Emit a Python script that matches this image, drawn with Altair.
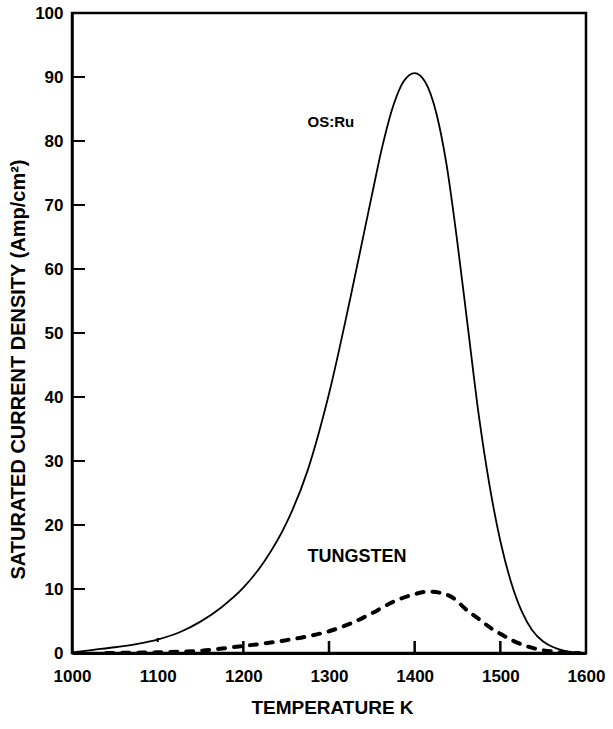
import altair as alt
import pandas as pd

# ---- data ----
os_temp = [1000, 1025, 1050, 1075, 1100, 1125, 1150, 1175, 1200, 1225, 1250, 1275,
           1300, 1325, 1350, 1362, 1375, 1387, 1400, 1412, 1425, 1437, 1450, 1462,
           1475, 1487, 1500, 1512, 1525, 1537, 1550, 1562, 1575, 1587, 1600]
os_val = [0.1, 0.5, 0.9, 1.4, 2.1, 3.2, 4.9, 7.2, 10.2, 14.4, 20.2, 28.5,
          40.5, 55.5, 71.5, 79.0, 85.5, 89.3, 90.6, 89.3, 84.5, 76.5, 64.0, 51.0,
          37.0, 26.5, 17.5, 11.3, 6.5, 3.6, 1.8, 0.9, 0.35, 0.1, 0.0]

w_temp = [1040, 1075, 1100, 1125, 1150, 1175, 1200, 1225, 1250, 1275, 1300, 1325,
          1350, 1375, 1400, 1415, 1430, 1445, 1460, 1475, 1490, 1500, 1515, 1530,
          1545, 1560, 1575, 1592]
w_val = [0.0, 0.05, 0.1, 0.2, 0.35, 0.7, 1.1, 1.5, 2.0, 2.6, 3.4, 4.6,
         6.2, 8.0, 9.2, 9.6, 9.4, 8.6, 6.8, 5.3, 3.8, 3.0, 1.9, 1.1,
         0.55, 0.25, 0.08, 0.0]

x_labels = [1000, 1100, 1200, 1300, 1400, 1500, 1600]
y_labels = [0, 10, 20, 30, 40, 50, 60, 70, 80, 90, 100]
y_inner_ticks = [10, 20, 30, 40, 50, 60, 70, 80, 90]
x_inner_ticks = [1200, 1300, 1400, 1500]
x_small_tick = [1100]

ann_text = ["OS:Ru", "TUNGSTEN"]
ann_temp = [1275, 1275]
ann_val = [83, 15]

FONT = "Liberation Sans"
W, H = 514, 640

xs = alt.Scale(domain=[1000, 1600], nice=False, zero=False)
ys = alt.Scale(domain=[0, 100], nice=False, zero=True)

os_df = pd.DataFrame({"T": os_temp, "J": os_val})
w_df = pd.DataFrame({"T": w_temp, "J": w_val})
yt_df = pd.DataFrame({"J": y_inner_ticks})
xt_df = pd.DataFrame({"T": x_inner_ticks})
xs_df = pd.DataFrame({"T": x_small_tick})
ann1 = pd.DataFrame({"T": [ann_temp[0]], "J": [ann_val[0]], "label": [ann_text[0]]})
ann2 = pd.DataFrame({"T": [ann_temp[1]], "J": [ann_val[1]], "label": [ann_text[1]]})

x_axis = alt.Axis(
    values=x_labels, format="d", title="TEMPERATURE K", ticks=False, grid=False,
    labelFlush=False, labelFont=FONT, labelFontSize=17, labelFontWeight="bold",
    labelColor="black", labelPadding=15, labelOverlap=False,
    titleFont=FONT, titleFontSize=19, titleFontWeight="bold", titleColor="black",
    titleY=54, titleBaseline="middle", titleX=260,
    domainColor="black", domainWidth=3,
)
y_axis = alt.Axis(
    values=y_labels, format="d", title="SATURATED CURRENT DENSITY (Amp/cm²)",
    ticks=False, grid=False, labelFlush=False, labelFont=FONT, labelFontSize=17,
    labelFontWeight="bold", labelColor="black", labelPadding=9, labelOverlap=False,
    titleFont=FONT, titleFontSize=20, titleFontWeight="bold", titleColor="black",
    titleAngle=270, titleX=-54, titleY=356, titleBaseline="middle",
    domainColor="black", domainWidth=2.5,
)

X = alt.X("T:Q", scale=xs, axis=x_axis)
Y = alt.Y("J:Q", scale=ys, axis=y_axis)

os_line = alt.Chart(os_df).mark_line(
    color="black", strokeWidth=1.8, interpolate="monotone"
).encode(x=X, y=Y)

w_line = alt.Chart(w_df).mark_line(
    color="black", strokeWidth=4, strokeDash=[7, 9], strokeCap="round",
    interpolate="monotone"
).encode(x=X, y=Y)

y_ticks = alt.Chart(yt_df).mark_rule(color="black", strokeWidth=2).encode(
    y=Y, x=alt.value(0), x2=alt.value(13),
)

x_ticks = alt.Chart(xt_df).mark_rule(color="black", strokeWidth=2.5).encode(
    x=X, y=alt.value(H - 12), y2=alt.value(H),
)

x_tick_s = alt.Chart(xs_df).mark_rule(color="black", strokeWidth=2).encode(
    x=X, y=alt.value(H - 15), y2=alt.value(H - 11),
)

t1 = alt.Chart(ann1).mark_text(
    align="left", baseline="middle", font=FONT, fontWeight="bold",
    fontSize=15, color="black"
).encode(x=X, y=Y, text="label:N")

t2 = alt.Chart(ann2).mark_text(
    align="left", baseline="middle", font=FONT, fontWeight="bold",
    fontSize=18, color="black"
).encode(x=X, y=Y, text="label:N")

chart = alt.layer(os_line, w_line, y_ticks, x_ticks, x_tick_s, t1, t2).properties(
    width=W, height=H,
    autosize=alt.AutoSizeParams(type="none"),
    padding={"left": 72, "top": 13, "right": 27, "bottom": 76},
    background="white",
).configure_view(
    stroke="black", strokeWidth=2.5
)

chart.save("out.html", embed_options={"renderer": "svg", "actions": False})
